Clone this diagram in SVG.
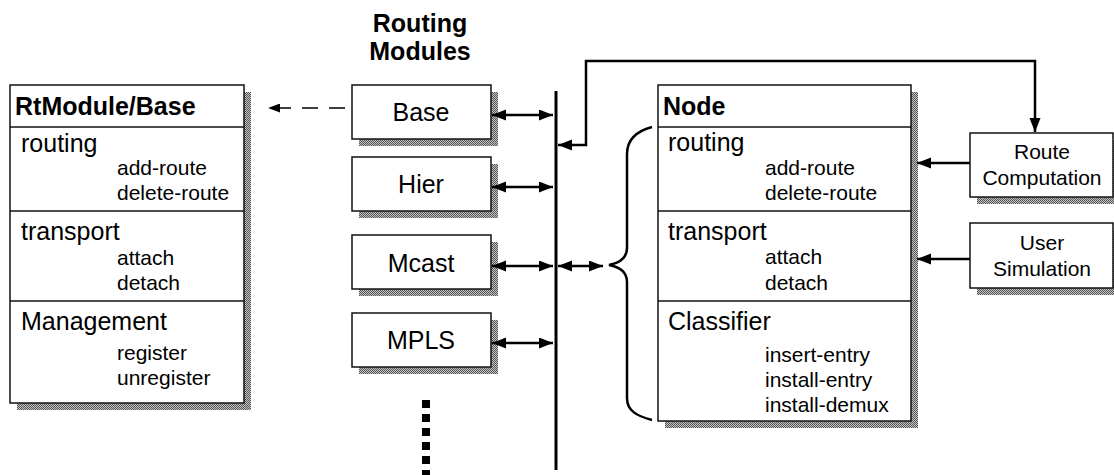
<svg xmlns="http://www.w3.org/2000/svg" width="1114" height="475" viewBox="0 0 1114 475">
<style>
.box{fill:#fff;stroke:#111;stroke-width:1.5}
.sh{fill:url(#dither)}
.div{stroke:#111;stroke-width:1.5}
text{font-family:"Liberation Sans",Arial,sans-serif;fill:#000}
.hd{font-size:25px;font-weight:bold}
.sec{font-size:25px}
.sub{font-size:21px}
.mod{font-size:25px;text-anchor:middle}
.ext{font-size:21px;text-anchor:middle}
.con{fill:none;stroke:#000;stroke-width:2.5}
</style>
<defs>
<pattern id="dither" width="2" height="2" patternUnits="userSpaceOnUse">
<rect width="2" height="2" fill="#c4c4c4"/>
<rect width="1" height="1" fill="#555"/>
<rect x="1" y="1" width="1" height="1" fill="#555"/>
</pattern>
<marker id="ah" markerUnits="userSpaceOnUse" markerWidth="14" markerHeight="12" refX="14" refY="5.5" orient="auto-start-reverse">
<path d="M0,0 L14,5.5 L0,11 z" fill="#000"/>
</marker>
<marker id="ahs" markerUnits="userSpaceOnUse" markerWidth="12" markerHeight="9" refX="12" refY="4.5" orient="auto-start-reverse">
<path d="M0,0 L12,4.5 L0,9 z" fill="#000"/>
</marker>
</defs>

<g id="title">
<text class="hd" x="420" y="32" text-anchor="middle">Routing</text>
<text class="hd" x="420" y="60" text-anchor="middle">Modules</text>
</g>

<g id="rtmodule-base">
<rect class="sh" x="17" y="92" width="234" height="318"/>
<rect class="box" x="10" y="85" width="234" height="318"/>
<line class="div" x1="10" y1="127" x2="244" y2="127"/>
<line class="div" x1="10" y1="211" x2="244" y2="211"/>
<line class="div" x1="10" y1="301" x2="244" y2="301"/>
<text class="hd" x="15" y="115">RtModule/Base</text>
<text class="sec" x="21" y="152">routing</text>
<text class="sub" x="117" y="175">add-route</text>
<text class="sub" x="117" y="200">delete-route</text>
<text class="sec" x="21" y="240">transport</text>
<text class="sub" x="117" y="265">attach</text>
<text class="sub" x="117" y="290">detach</text>
<text class="sec" x="21" y="330">Management</text>
<text class="sub" x="117" y="360">register</text>
<text class="sub" x="117" y="385">unregister</text>
</g>

<g id="mod-base">
<rect class="sh" x="359" y="92" width="139" height="54"/>
<rect class="box" x="352" y="85" width="139" height="54"/>
<text class="mod" x="421" y="121">Base</text>
</g>
<g id="mod-hier">
<rect class="sh" x="359" y="164" width="139" height="54"/>
<rect class="box" x="352" y="157" width="139" height="54"/>
<text class="mod" x="421" y="193">Hier</text>
</g>
<g id="mod-mcast">
<rect class="sh" x="359" y="242" width="139" height="54"/>
<rect class="box" x="352" y="235" width="139" height="54"/>
<text class="mod" x="421" y="272">Mcast</text>
</g>
<g id="mod-mpls">
<rect class="sh" x="359" y="320" width="139" height="54"/>
<rect class="box" x="352" y="313" width="139" height="54"/>
<text class="mod" x="421" y="349">MPLS</text>
</g>

<g id="node">
<rect class="sh" x="665" y="92" width="253" height="336"/>
<rect class="box" x="658" y="85" width="253" height="336"/>
<line class="div" x1="658" y1="127" x2="911" y2="127"/>
<line class="div" x1="658" y1="211" x2="911" y2="211"/>
<line class="div" x1="658" y1="301" x2="911" y2="301"/>
<text class="hd" x="663" y="115">Node</text>
<text class="sec" x="668" y="151">routing</text>
<text class="sub" x="765" y="175">add-route</text>
<text class="sub" x="765" y="200">delete-route</text>
<text class="sec" x="668" y="240">transport</text>
<text class="sub" x="765" y="264">attach</text>
<text class="sub" x="765" y="290">detach</text>
<text class="sec" x="668" y="330">Classifier</text>
<text class="sub" x="765" y="362">insert-entry</text>
<text class="sub" x="765" y="387">install-entry</text>
<text class="sub" x="765" y="412">install-demux</text>
</g>

<g id="route-computation">
<rect class="sh" x="977" y="140" width="143" height="64"/>
<rect class="box" x="970" y="133" width="143" height="64"/>
<text class="ext" x="1042" y="159">Route</text>
<text class="ext" x="1042" y="185">Computation</text>
</g>
<g id="user-simulation">
<rect class="sh" x="977" y="230" width="143" height="65"/>
<rect class="box" x="970" y="223" width="143" height="65"/>
<text class="ext" x="1042" y="250">User</text>
<text class="ext" x="1042" y="276">Simulation</text>
</g>

<g id="connectors">
<line x1="556" y1="91" x2="556" y2="470" stroke="#000" stroke-width="3"/>
<path class="con" d="M492,115 H553" marker-start="url(#ah)" marker-end="url(#ah)"/>
<path class="con" d="M492,187 H553" marker-start="url(#ah)" marker-end="url(#ah)"/>
<path class="con" d="M492,266 H553" marker-start="url(#ah)" marker-end="url(#ah)"/>
<path class="con" d="M492,343 H553" marker-start="url(#ah)" marker-end="url(#ah)"/>
<path class="con" d="M558,266 H603" marker-start="url(#ah)" marker-end="url(#ah)"/>
<path class="con" d="M1035,132 V61 H586 V145 H558" marker-start="url(#ah)" marker-end="url(#ah)"/>
<path class="con" d="M970,163 H917" marker-end="url(#ah)"/>
<path class="con" d="M970,259 H917" marker-end="url(#ah)"/>
<path d="M345,108 H268" fill="none" stroke="#000" stroke-width="1.5" stroke-dasharray="16 11" marker-end="url(#ahs)"/>
<path d="M426,400 V475" fill="none" stroke="#000" stroke-width="8" stroke-dasharray="8 6"/>
<path d="M652,127 C637,131 627,139 627,154 L627,248 C627,258 620,263 609,265 C620,267 627,272 627,282 L627,398 C627,411 637,416 652,420" fill="none" stroke="#000" stroke-width="2.5"/>
</g>
</svg>
